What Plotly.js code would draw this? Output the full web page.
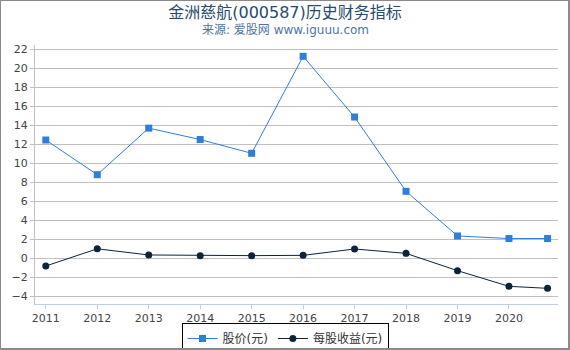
<!DOCTYPE html>
<html><head><meta charset="utf-8">
<script src="https://cdn.plot.ly/plotly-3.0.1.min.js"></script>
<style>
html,body{margin:0;padding:0;background:#fff;}
#wrap{position:relative;width:570px;height:350px;}
#chart{width:570px;height:350px;}
#frame{position:absolute;left:0;top:0;width:570px;height:350px;box-sizing:border-box;border-style:solid;border-color:#8a8a8a;border-width:1px 2px 2px 1px;pointer-events:none;}
</style></head>
<body>
<div id="wrap"><div id="chart"></div><div id="frame"></div></div>
<script>
const years = [2011, 2012, 2013, 2014, 2015, 2016, 2017, 2018, 2019, 2020, 2020.75];
const tickYears = [2011, 2012, 2013, 2014, 2015, 2016, 2017, 2018, 2019, 2020];
const tickLabels = ['2011','2012','2013','2014','2015','2016','2017','2018','2019','2020'];
const price = [12.45, 8.8, 13.7, 12.5, 11.05, 21.26, 14.87, 7.05, 2.35, 2.08, 2.08];
const eps = [-0.81, 1.0, 0.35, 0.28, 0.28, 0.31, 0.98, 0.52, -1.3, -2.95, -3.16];
const seriesNames = ['股价(元)', '每股收益(元)'];
const FONT = 'DejaVu Sans, Noto Sans CJK SC, sans-serif';

const traces = [
  {x: years, y: price, name: seriesNames[0], type: 'scatter', mode: 'lines+markers',
   line: {color: '#2f7ed8', width: 1}, marker: {symbol: 'square', size: 7, color: '#2f7ed8'}},
  {x: years, y: eps, name: seriesNames[1], type: 'scatter', mode: 'lines+markers',
   line: {color: '#0d233a', width: 1}, marker: {symbol: 'circle', size: 7, color: '#0d233a'}}
];

const layout = {
  width: 570, height: 350,
  margin: {l: 35, r: 12, t: 45, b: 46},
  paper_bgcolor: '#fff', plot_bgcolor: '#fff',
  font: {family: FONT, size: 11, color: '#444'},
  title: {text: '金洲慈航(000587)历史财务指标', x: 0.5, xanchor: 'center', xref: 'container',
          y: 1 - 12.5/350, yref: 'container', yanchor: 'middle', automargin: false,
          font: {family: FONT, size: 16, color: '#274b6d'}},
  annotations: [{text: '来源: 爱股网 www.iguuu.com', xref: 'paper', yref: 'paper',
    x: (285 - 35) / 523, y: (304 - 30) / 259, xanchor: 'center', yanchor: 'middle',
    showarrow: false, font: {family: FONT, size: 12, color: '#4d759e'}}],
  xaxis: {type: 'linear', range: [2010.79, 2020.953], tickmode: 'array', tickvals: tickYears, ticktext: tickLabels,
    showgrid: false, zeroline: false, showline: true, linecolor: '#c0d0e0', linewidth: 1, automargin: false,
    ticks: 'outside', ticklen: 4, tickcolor: '#c0d0e0', tickfont: {family: FONT, size: 11, color: '#444'}},
  yaxis: {range: [-4.81, 22.45], tickmode: 'array', tickvals: [-4,-2,0,2,4,6,8,10,12,14,16,18,20,22],
    showgrid: true, gridcolor: '#c0c0c0', gridwidth: 1, zeroline: false, automargin: false,
    showline: true, linecolor: '#c0c0c0', linewidth: 1,
    ticks: 'outside', ticklen: 4, tickcolor: '#c0c0c0', tickfont: {family: FONT, size: 11, color: '#444'}},
  showlegend: true,
  legend: {orientation: 'h', x: 0.5, xref: 'container', xanchor: 'center',
    y: 27/350, yref: 'container', yanchor: 'top',
    bordercolor: '#000', borderwidth: 1, bgcolor: '#fff',
    font: {family: FONT, size: 12, color: '#333'}, itemwidth: 30}
};

Plotly.newPlot('chart', traces, layout, {displayModeBar: false, staticPlot: true});
</script>
</body></html>
